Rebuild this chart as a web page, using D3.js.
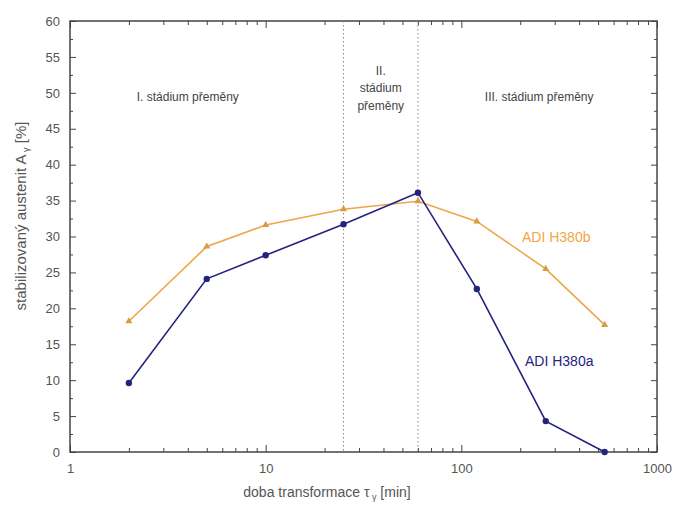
<!DOCTYPE html>
<html lang="cs">
<head>
  <meta charset="utf-8">
  <title>Stabilizovaný austenit</title>
  <script src="https://cdnjs.cloudflare.com/ajax/libs/d3/7.8.5/d3.min.js"></script>
  <style>
    body { margin: 0; background: #fff; }
    svg text { font-family: "Liberation Sans", Arial, sans-serif; }
    .frame { fill: none; stroke: #444; stroke-width: 1.5; }
    .tick line { stroke: #444; }
    .tick text { fill: #555; font-size: 13px; }
    .domain { display: none; }
    .divider { stroke: #888; stroke-width: 1; stroke-dasharray: 1.5, 2.5; }
    .stage { fill: #444; font-size: 12px; text-anchor: middle; }
  </style>
</head>
<body>
<svg id="chart" width="675" height="507"></svg>
<script>
  // doba transformace [min]
  var times = [2, 5, 10, 25, 60, 120, 270, 540];
  // stabilizovaný austenit [%]
  var h380b = [18.2, 28.6, 31.6, 33.8, 34.9, 32.1, 25.5, 17.7];
  var h380a = [9.6, 24.1, 27.4, 31.7, 36.1, 22.7, 4.3, 0];
  var stageBounds = [25, 60];
  var xTicks = [1, 10, 100, 1000];
  var yTicks = [0, 5, 10, 15, 20, 25, 30, 35, 40, 45, 50, 55, 60];

  var margin = { top: 21, right: 18, bottom: 55, left: 70 };
  var width = 675 - margin.left - margin.right,
      height = 507 - margin.top - margin.bottom;

  var svg = d3.select("#chart");
  var g = svg.append("g").attr("transform", "translate(" + margin.left + "," + margin.top + ")");

  var x = d3.scaleLog().domain([1, 1000]).range([0, width]);
  var y = d3.scaleLinear().domain([0, 60]).range([height, 0]);

  // minor log ticks 2..9 for each decade
  var xMinor = [];
  [1, 10, 100].forEach(function (d) {
    for (var k = 2; k <= 9; k++) xMinor.push(d * k);
  });
  var yMinor = d3.range(2.5, 60, 5);

  // bottom axis (labels) + inward ticks
  g.append("g")
    .attr("transform", "translate(0," + height + ")")
    .call(d3.axisBottom(x).tickValues(xTicks).tickFormat(d3.format("d")).tickSize(-7).tickPadding(12));
  g.append("g")
    .attr("transform", "translate(0," + height + ")")
    .call(d3.axisBottom(x).tickValues(xMinor).tickFormat("").tickSize(-4));
  // top axis, ticks only
  g.append("g").call(d3.axisTop(x).tickValues(xTicks).tickFormat("").tickSize(-7));
  g.append("g").call(d3.axisTop(x).tickValues(xMinor).tickFormat("").tickSize(-4));

  // left axis
  g.append("g")
    .call(d3.axisLeft(y).tickValues(yTicks).tickSize(-6).tickPadding(10));
  g.append("g")
    .call(d3.axisLeft(y).tickValues(yMinor).tickFormat("").tickSize(-3));
  // right axis, ticks only
  g.append("g").attr("transform", "translate(" + width + ",0)")
    .call(d3.axisRight(y).tickValues(yTicks).tickFormat("").tickSize(-6));
  g.append("g").attr("transform", "translate(" + width + ",0)")
    .call(d3.axisRight(y).tickValues(yMinor).tickFormat("").tickSize(-3));

  g.append("rect").attr("class", "frame").attr("width", width).attr("height", height);

  // stage dividers
  g.selectAll(".divider").data(stageBounds).enter().append("line")
    .attr("class", "divider")
    .attr("x1", function (d) { return x(d); }).attr("x2", function (d) { return x(d); })
    .attr("y1", 0).attr("y2", height);

  // stage labels
  g.append("text").attr("class", "stage").attr("x", x(4.0)).attr("y", 80).text("I. stádium přeměny");
  var mid = Math.sqrt(stageBounds[0] * stageBounds[1]);
  var t2 = g.append("text").attr("class", "stage").attr("x", x(mid)).attr("y", 54);
  t2.append("tspan").attr("x", x(mid)).text("II.");
  t2.append("tspan").attr("x", x(mid)).attr("dy", 17).text("stádium");
  t2.append("tspan").attr("x", x(mid)).attr("dy", 18).text("přeměny");
  g.append("text").attr("class", "stage").attr("x", x(250)).attr("y", 80).text("III. stádium přeměny");

  var line = d3.line()
    .x(function (d) { return x(d[0]); })
    .y(function (d) { return y(d[1]); });

  var dataB = times.map(function (t, i) { return [t, h380b[i]]; });
  var dataA = times.map(function (t, i) { return [t, h380a[i]]; });

  var orange = "#eea64a", navy = "#24237f";

  g.append("path").datum(dataB).attr("d", line)
    .attr("fill", "none").attr("stroke", orange).attr("stroke-width", 1.6);
  g.selectAll(".triB").data(dataB).enter().append("path")
    .attr("transform", function (d) { return "translate(" + x(d[0]) + "," + y(d[1]) + ")"; })
    .attr("d", d3.symbol(d3.symbolTriangle, 22))
    .attr("fill", "#d99a40");

  g.append("path").datum(dataA).attr("d", line)
    .attr("fill", "none").attr("stroke", navy).attr("stroke-width", 1.6);
  g.selectAll(".dotA").data(dataA).enter().append("circle")
    .attr("cx", function (d) { return x(d[0]); })
    .attr("cy", function (d) { return y(d[1]); })
    .attr("r", 3.2)
    .attr("fill", navy);

  // series labels
  g.append("text").attr("x", 522 - margin.left).attr("y", 242 - margin.top)
    .attr("fill", orange).attr("font-size", 14).text("ADI H380b");
  g.append("text").attr("x", 525 - margin.left).attr("y", 366 - margin.top)
    .attr("fill", navy).attr("font-size", 14).text("ADI H380a");

  // axis titles
  var xt = svg.append("text").attr("x", 327).attr("y", 497)
    .attr("text-anchor", "middle").attr("fill", "#555").attr("font-size", 14);
  xt.append("tspan").text("doba transformace  τ");
  xt.append("tspan").attr("font-size", 9).attr("dy", 3).text(" γ");
  xt.append("tspan").attr("dy", -3).text(" [min]");

  var yt = svg.append("text")
    .attr("transform", "translate(26,216) rotate(-90)")
    .attr("text-anchor", "middle").attr("fill", "#555").attr("font-size", 15);
  yt.append("tspan").text("stabilizovaný austenit  A");
  yt.append("tspan").attr("font-size", 9).attr("dy", 3).text("   γ");
  yt.append("tspan").attr("dy", -3).text("  [%]");
</script>
</body>
</html>
